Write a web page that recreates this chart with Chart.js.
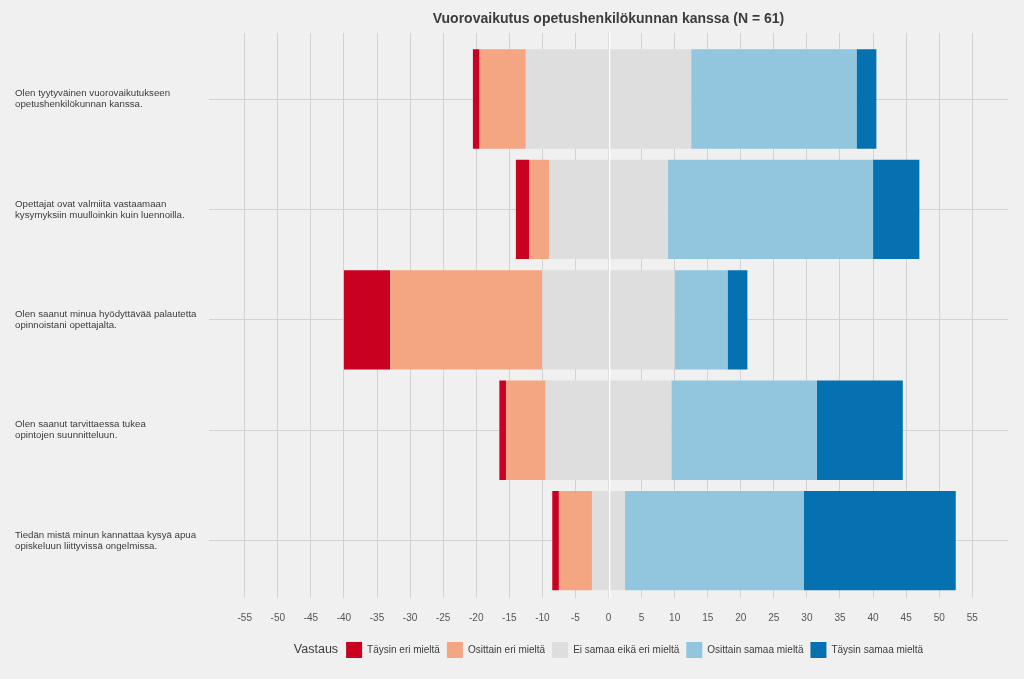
<!DOCTYPE html>
<html>
<head>
<meta charset="utf-8">
<script src="https://cdn.jsdelivr.net/npm/chart.js@4"></script>
<style>
  html, body { margin: 0; padding: 0; background: #f0f0f0; }
  #wrap { width: 1024px; height: 679px; }
</style>
</head>
<body>
<div id="wrap"><canvas id="chart"></canvas></div>
<script>
// kysymykset (rivit ylhäältä alas)
const categories = [
    ['Olen tyytyväinen vuorovaikutukseen', 'opetushenkilökunnan kanssa.'],
    ['Opettajat ovat valmiita vastaamaan', 'kysymyksiin muulloinkin kuin luennoilla.'],
    ['Olen saanut minua hyödyttävää palautetta', 'opinnoistani opettajalta.'],
    ['Olen saanut tarvittaessa tukea', 'opintojen suunnitteluun.'],
    ['Tiedän mistä minun kannattaa kysyä apua', 'opiskeluun liittyvissä ongelmissa.']
];

// vastausten määrät (N = 61)
const taysinEri = [1, 2, 7, 1, 1];
const osittainEri = [7, 3, 23, 6, 5];
const eiSamaaEikaEri = [25, 18, 20, 19, 5];
const osittainSamaa = [25, 31, 8, 22, 27];
const taysinSamaa = [3, 7, 3, 13, 23];

const xTicks = [-55, -50, -45, -40, -35, -30, -25, -20, -15, -10, -5, 0, 5, 10, 15, 20, 25, 30, 35, 40, 45, 50, 55];

const FONT = '"Liberation Sans", Arial, sans-serif';
const TXT = '#3c3c3c';
const GRID = '#d2d2d2';

Chart.defaults.font.family = FONT;
Chart.defaults.color = TXT;

function pts(arr, sign, half) {
    return arr.map((v, i) => ({ x: sign * (half ? v / 2 : v), y: i + 1 }));
}

// negatiivinen puoli nollasta ulospäin, sitten positiivinen
const datasets = [
    { label: 'Ei samaa eikä eri mieltä', data: pts(eiSamaaEikaEri, -1, true), backgroundColor: '#dedede' },
    { label: 'Osittain eri mieltä', data: pts(osittainEri, -1), backgroundColor: '#f4a582' },
    { label: 'Täysin eri mieltä', data: pts(taysinEri, -1), backgroundColor: '#ca0020' },
    { label: 'Ei samaa eikä eri mieltä', data: pts(eiSamaaEikaEri, 1, true), backgroundColor: '#dedede' },
    { label: 'Osittain samaa mieltä', data: pts(osittainSamaa, 1), backgroundColor: '#92c5de' },
    { label: 'Täysin samaa mieltä', data: pts(taysinSamaa, 1), backgroundColor: '#0571b0' }
];
const legendRank = [2, 1, 0, 9, 3, 4];

// valkoinen nollaviiva palkkien päälle
const zeroLine = {
    id: 'zeroLine',
    afterDatasetsDraw(chart) {
        const { ctx, chartArea: a, scales: { x } } = chart;
        const px = Math.round(x.getPixelForValue(0)) + 0.5;
        ctx.save();
        ctx.strokeStyle = '#ffffff';
        ctx.lineWidth = 1.5;
        ctx.beginPath();
        ctx.moveTo(px, a.top);
        ctx.lineTo(px, a.bottom);
        ctx.stroke();
        ctx.restore();
    }
};

// "Vastaus" selitteen vasemmalle puolelle
const legendTitle = {
    id: 'legendTitle',
    afterLayout(chart) {
        const lg = chart.legend;
        const ctx = chart.ctx;
        ctx.save();
        ctx.font = '12.5px ' + FONT;
        const w = ctx.measureText('Vastaus').width + 8;
        ctx.restore();
        const pad = lg.options.labels.padding;
        const rowW = lg.lineWidths[0] - pad;
        const now = (lg.left + pad + lg.right - lg.lineWidths[0]) / 2;
        const want = (chart.chartArea.left + chart.chartArea.right) / 2 - (w + rowW) / 2 + w;
        lg.left += want - now;
        lg.right += want - now;
    },
    afterDraw(chart) {
        const hb = chart.legend.legendHitBoxes[0];
        if (!hb) return;
        const ctx = chart.ctx;
        ctx.save();
        ctx.font = '12.5px ' + FONT;
        ctx.fillStyle = TXT;
        ctx.textAlign = 'right';
        ctx.textBaseline = 'middle';
        ctx.fillText('Vastaus', hb.left - 8, hb.top + hb.height / 2);
        ctx.restore();
    }
};

new Chart(document.getElementById('chart'), {
    type: 'bar',
    data: { datasets: datasets },
    options: {
        indexAxis: 'y',
        responsive: true,
        maintainAspectRatio: false,
        animation: false,
        barPercentage: 0.9,
        categoryPercentage: 1,
        layout: { padding: { left: 15, right: 16, top: 0, bottom: 11 } },
        scales: {
            x: {
                type: 'linear',
                stacked: true,
                min: -60.4,
                max: 60.4,
                afterBuildTicks: (axis) => { axis.ticks = xTicks.map(v => ({ value: v })); },
                afterFit: (axis) => { axis.height -= 3; },
                grid: { color: GRID, drawTicks: false },
                border: { display: false },
                ticks: { font: { size: 10 }, color: '#555555', padding: 14, maxRotation: 0 }
            },
            y: {
                type: 'linear',
                stacked: true,
                reverse: true,
                offset: false,
                min: 0.4,
                max: 5.52,
                afterBuildTicks: (axis) => { axis.ticks = categories.map((c, i) => ({ value: i + 1 })); },
                afterFit: (axis) => { axis.width = 194; },
                grid: { color: GRID, drawTicks: false, offset: false },
                border: { display: false },
                ticks: {
                    font: { size: 9.7, lineHeight: 1.15 },
                    color: TXT,
                    crossAlign: 'far',
                    padding: 8,
                    callback: (v) => categories[v - 1]
                }
            }
        },
        plugins: {
            title: {
                display: true,
                text: 'Vuorovaikutus opetushenkilökunnan kanssa (N = 61)',
                fullSize: false,
                color: TXT,
                font: { size: 14, weight: 'bold' },
                padding: { top: 11, bottom: 5 }
            },
            legend: {
                position: 'bottom',
                labels: {
                    boxWidth: 16,
                    boxHeight: 16,
                    padding: 7,
                    color: TXT,
                    font: { size: 10 },
                    filter: (item) => item.datasetIndex !== 3,
                    sort: (a, b) => legendRank[a.datasetIndex] - legendRank[b.datasetIndex]
                }
            },
            tooltip: { enabled: false }
        }
    },
    plugins: [zeroLine, legendTitle]
});
</script>
</body>
</html>
